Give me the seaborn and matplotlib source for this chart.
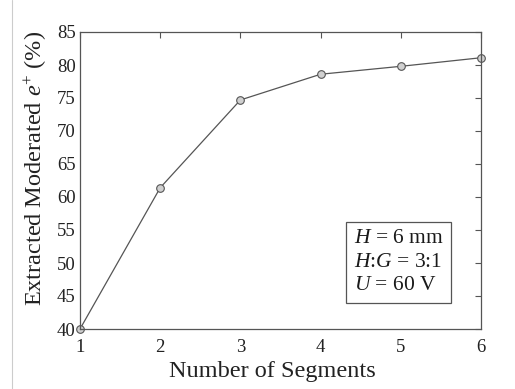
import matplotlib
matplotlib.use("Agg")
import matplotlib.pyplot as plt
import seaborn as sns
import pandas as pd

segments = [1, 2, 3, 4, 5, 6]
extracted = [40.0, 61.4, 74.7, 78.6, 79.8, 81.1]
x_ticks = [1, 2, 3, 4, 5, 6]
y_ticks = [40, 45, 50, 55, 60, 65, 70, 75, 80, 85]

sns.set_theme(style="white")
plt.rcParams['font.family'] = ['Liberation Serif', 'DejaVu Serif']
plt.rcParams['mathtext.fontset'] = 'custom'
plt.rcParams['mathtext.rm'] = 'Liberation Serif'
plt.rcParams['mathtext.it'] = 'Liberation Serif:italic'

df = pd.DataFrame({"seg": segments, "val": extracted})

fig = plt.figure(figsize=(5.15, 3.89), dpi=100)
ax = fig.add_axes([80/515, 1 - 329/389, (481-80)/515, (329-32)/389])
sns.lineplot(data=df, x="seg", y="val", ax=ax, color="#555555", linewidth=0.9,
             marker="o", markersize=5.5, markerfacecolor="#d0d0d0",
             markeredgecolor="#555555", markeredgewidth=0.8, clip_on=False)
ax.set_xlim(1, 6)
ax.set_ylim(40, 85)
ax.set_xticks(x_ticks)
ax.set_yticks(y_ticks)
ax.tick_params(direction="in", top=True, right=True, length=4, width=0.8,
               color="#555555", labelsize=13.5, labelcolor="#222222")
ax.tick_params(axis="x", pad=7)
ax.tick_params(axis="y", pad=3)
for s in ax.spines.values():
    s.set_color("#555555")
    s.set_linewidth(0.9)
ax.set_xlabel("Number of Segments", fontsize=17.5, color="#222222", labelpad=4)
ax.set_ylabel(r"Extracted Moderated $e^{+}$ (%)", fontsize=17.5, color="#222222", labelpad=6)
ax.xaxis.label.set_x(0.479)
ax.yaxis.label.set_y(0.54)

ax.text(0.795, 0.225, "$H$ = 6 mm\n$H$:$G$ = 3:1\n$U$ = 60 V", transform=ax.transAxes,
        fontsize=15.5, color="#1a1a1a", ha="left", va="center", linespacing=1.32,
        bbox=dict(boxstyle="square,pad=0.35", facecolor="white", edgecolor="#555555", linewidth=0.9))

fig.add_artist(plt.Line2D([12/515, 12/515], [0, 1], color="#cccccc", linewidth=0.8))

fig.canvas.draw()
t = ax.texts[0]
bb = t.get_window_extent()
inv = ax.transAxes.inverted()
w = inv.transform((bb.x1, 0))[0] - inv.transform((bb.x0, 0))[0]
t.set_x(0.795 - w / 2)

fig.savefig("out.png", dpi=100)
